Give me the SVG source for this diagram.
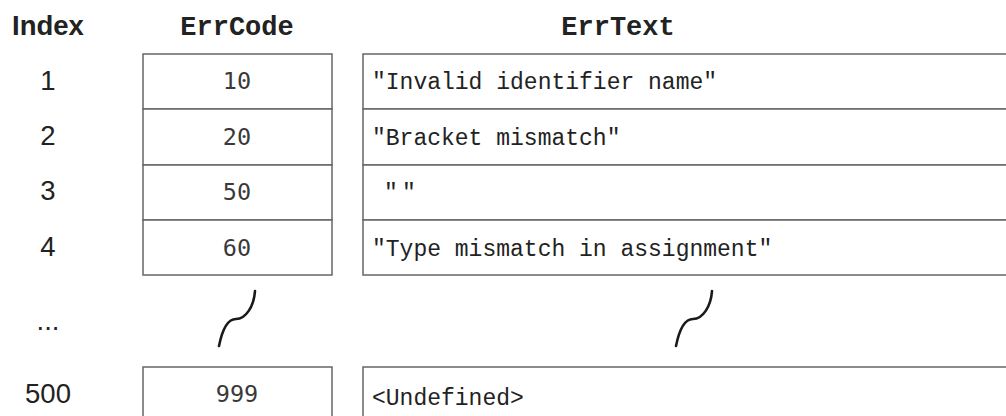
<svg xmlns="http://www.w3.org/2000/svg" width="1006" height="416" viewBox="0 0 1006 416">
<style>
.idx{font-family:"Liberation Sans",Arial,sans-serif;font-size:27.5px;fill:#222;text-anchor:middle}
.hdr{font-family:"Liberation Mono","Courier New",monospace;font-size:27px;font-weight:bold;fill:#222;text-anchor:middle}
.code{font-family:"DejaVu Sans Mono",monospace;font-size:23.5px;fill:#3a3a3a;text-anchor:middle}
.txt{font-family:"Liberation Mono","Courier New",monospace;font-size:23px;fill:#222}
.cell{fill:#fff;stroke:#666;stroke-width:1.5}
.sq{fill:none;stroke:#1a1a1a;stroke-width:2.6;stroke-linecap:round}
</style>
<rect width="1006" height="416" fill="#fff"/>
<g id="headers">
<text class="idx" x="48" y="35" font-weight="bold">Index</text>
<text class="hdr" x="237" y="35">ErrCode</text>
<text class="hdr" x="618" y="35">ErrText</text>
</g>
<g id="index">
<text class="idx" x="48" y="90">1</text>
<text class="idx" x="48" y="145">2</text>
<text class="idx" x="48" y="200">3</text>
<text class="idx" x="48" y="256">4</text>
<text class="idx" x="48" y="330">...</text>
<text class="idx" x="48" y="403">500</text>
</g>
<g id="errcode">
<rect class="cell" x="143" y="54" width="189" height="55"/>
<rect class="cell" x="143" y="109" width="189" height="56"/>
<rect class="cell" x="143" y="165" width="189" height="55"/>
<rect class="cell" x="143" y="220" width="189" height="55"/>
<rect class="cell" x="143" y="367" width="189" height="60"/>
<text class="code" x="237" y="89">10</text>
<text class="code" x="237" y="145">20</text>
<text class="code" x="237" y="200">50</text>
<text class="code" x="237" y="256">60</text>
<text class="code" x="237" y="402">999</text>
</g>
<g id="errtext">
<rect class="cell" x="363" y="54" width="660" height="55"/>
<rect class="cell" x="363" y="109" width="660" height="56"/>
<rect class="cell" x="363" y="165" width="660" height="55"/>
<rect class="cell" x="363" y="220" width="660" height="55"/>
<rect class="cell" x="363" y="367" width="660" height="60"/>
<text class="txt" x="372" y="89">"Invalid identifier name"</text>
<text class="txt" x="372" y="145">"Bracket mismatch"</text>
<text class="txt" x="384" y="200">"<tspan x="402">"</tspan></text>
<text class="txt" x="372" y="256">"Type mismatch in assignment"</text>
<text class="txt" x="372" y="405">&lt;Undefined&gt;</text>
</g>
<g id="connectors">
<path class="sq" d="M219,346 C222,331 227,319 236,319 C246,319 254,306 255,291"/>
<path class="sq" d="M676,346 C679,331 684,319 693,319 C703,319 711,306 712,291"/>
</g>
</svg>
